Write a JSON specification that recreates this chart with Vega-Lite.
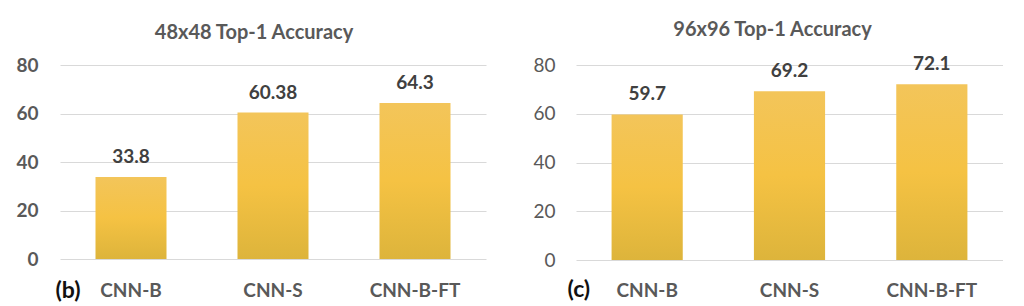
{
  "$schema": "https://vega.github.io/schema/vega-lite/v6.json",
  "background": "white",
  "padding": {"left": 0, "top": 20, "right": 0, "bottom": 0},
  "spacing": 30,
  "config": {
    "view": {"stroke": null},
    "font": "Lato",
    "axis": {"labelFont": "Lato", "titleFont": "Lato"},
    "title": {"font": "Lato"}
  },
  "datasets": {
    "b": [
      {"model": "CNN-B", "acc": 33.8, "label": "33.8"},
      {"model": "CNN-S", "acc": 60.38, "label": "60.38"},
      {"model": "CNN-B-FT", "acc": 64.3, "label": "64.3"}
    ],
    "c": [
      {"model": "CNN-B", "acc": 59.7, "label": "59.7"},
      {"model": "CNN-S", "acc": 69.2, "label": "69.2"},
      {"model": "CNN-B-FT", "acc": 72.1, "label": "72.1"}
    ]
  },
  "hconcat": [
    {
      "width": 426,
      "height": 194,
      "data": {"name": "b"},
      "title": {"text": "48x48 Top-1 Accuracy", "fontSize": 20, "fontWeight": "bold", "color": "#595959", "offset": 13, "dx": -19},
      "encoding": {
        "x": {
          "field": "model", "type": "nominal", "sort": null,
          "scale": {"paddingInner": 0.5, "paddingOuter": 0.25},
          "axis": {
            "title": "(b)", "titleFontSize": 23, "titleFontWeight": "bold", "titleColor": "#111111",
            "titleX": -5, "titleY": 38, "titleAlign": "left", "titleBaseline": "alphabetic", "titleAnchor": null,
            "labelAngle": 0, "labelFontSize": 19, "labelFontWeight": "bold", "labelColor": "#595959",
            "labelPadding": 22, "ticks": false, "domain": false, "grid": false
          }
        },
        "y": {
          "field": "acc", "type": "quantitative",
          "scale": {"domain": [0, 80]},
          "axis": {
            "title": null, "values": [0, 20, 40, 60, 80], "labelFontSize": 19, "labelFontWeight": "bold",
            "labelColor": "#595959", "labelPadding": 22, "ticks": false, "domain": false,
            "gridColor": "#d9d9d9", "minExtent": 60, "maxExtent": 60
          }
        }
      },
      "layer": [
        {
          "mark": {
            "type": "bar",
            "color": {"gradient": "linear", "x1": 0, "y1": 0, "x2": 0, "y2": 1,
              "stops": [{"offset": 0, "color": "#F3C55A"}, {"offset": 0.5, "color": "#F5C243"}, {"offset": 1, "color": "#DDB43B"}]}
          }
        },
        {
          "mark": {"type": "text", "fontSize": 19, "fontWeight": "bold", "color": "#404040", "baseline": "alphabetic", "dy": -14},
          "encoding": {"text": {"field": "label"}}
        }
      ]
    },
    {
      "width": 427,
      "height": 195,
      "data": {"name": "c"},
      "title": {"text": "96x96 Top-1 Accuracy", "fontSize": 20, "fontWeight": "bold", "color": "#595959", "offset": 15, "dx": -17},
      "encoding": {
        "x": {
          "field": "model", "type": "nominal", "sort": null,
          "scale": {"paddingInner": 0.5, "paddingOuter": 0.25},
          "axis": {
            "title": "(c)", "titleFontSize": 23, "titleFontWeight": "bold", "titleColor": "#111111",
            "titleX": -9, "titleY": 36, "titleAlign": "left", "titleBaseline": "alphabetic", "titleAnchor": null,
            "labelAngle": 0, "labelFontSize": 19, "labelFontWeight": "bold", "labelColor": "#595959",
            "labelPadding": 21, "ticks": false, "domain": false, "grid": false
          }
        },
        "y": {
          "field": "acc", "type": "quantitative",
          "scale": {"domain": [0, 80]},
          "axis": {
            "title": null, "values": [0, 20, 40, 60, 80], "labelFontSize": 19, "labelFontWeight": "normal",
            "labelColor": "#595959", "labelPadding": 21, "ticks": false, "domain": false,
            "gridColor": "#d9d9d9", "minExtent": 60, "maxExtent": 60
          }
        }
      },
      "layer": [
        {
          "mark": {
            "type": "bar",
            "color": {"gradient": "linear", "x1": 0, "y1": 0, "x2": 0, "y2": 1,
              "stops": [{"offset": 0, "color": "#F3C55A"}, {"offset": 0.5, "color": "#F5C243"}, {"offset": 1, "color": "#DDB43B"}]}
          }
        },
        {
          "mark": {"type": "text", "fontSize": 19, "fontWeight": "bold", "color": "#404040", "baseline": "alphabetic", "dy": -14},
          "encoding": {"text": {"field": "label"}}
        }
      ]
    }
  ]
}
